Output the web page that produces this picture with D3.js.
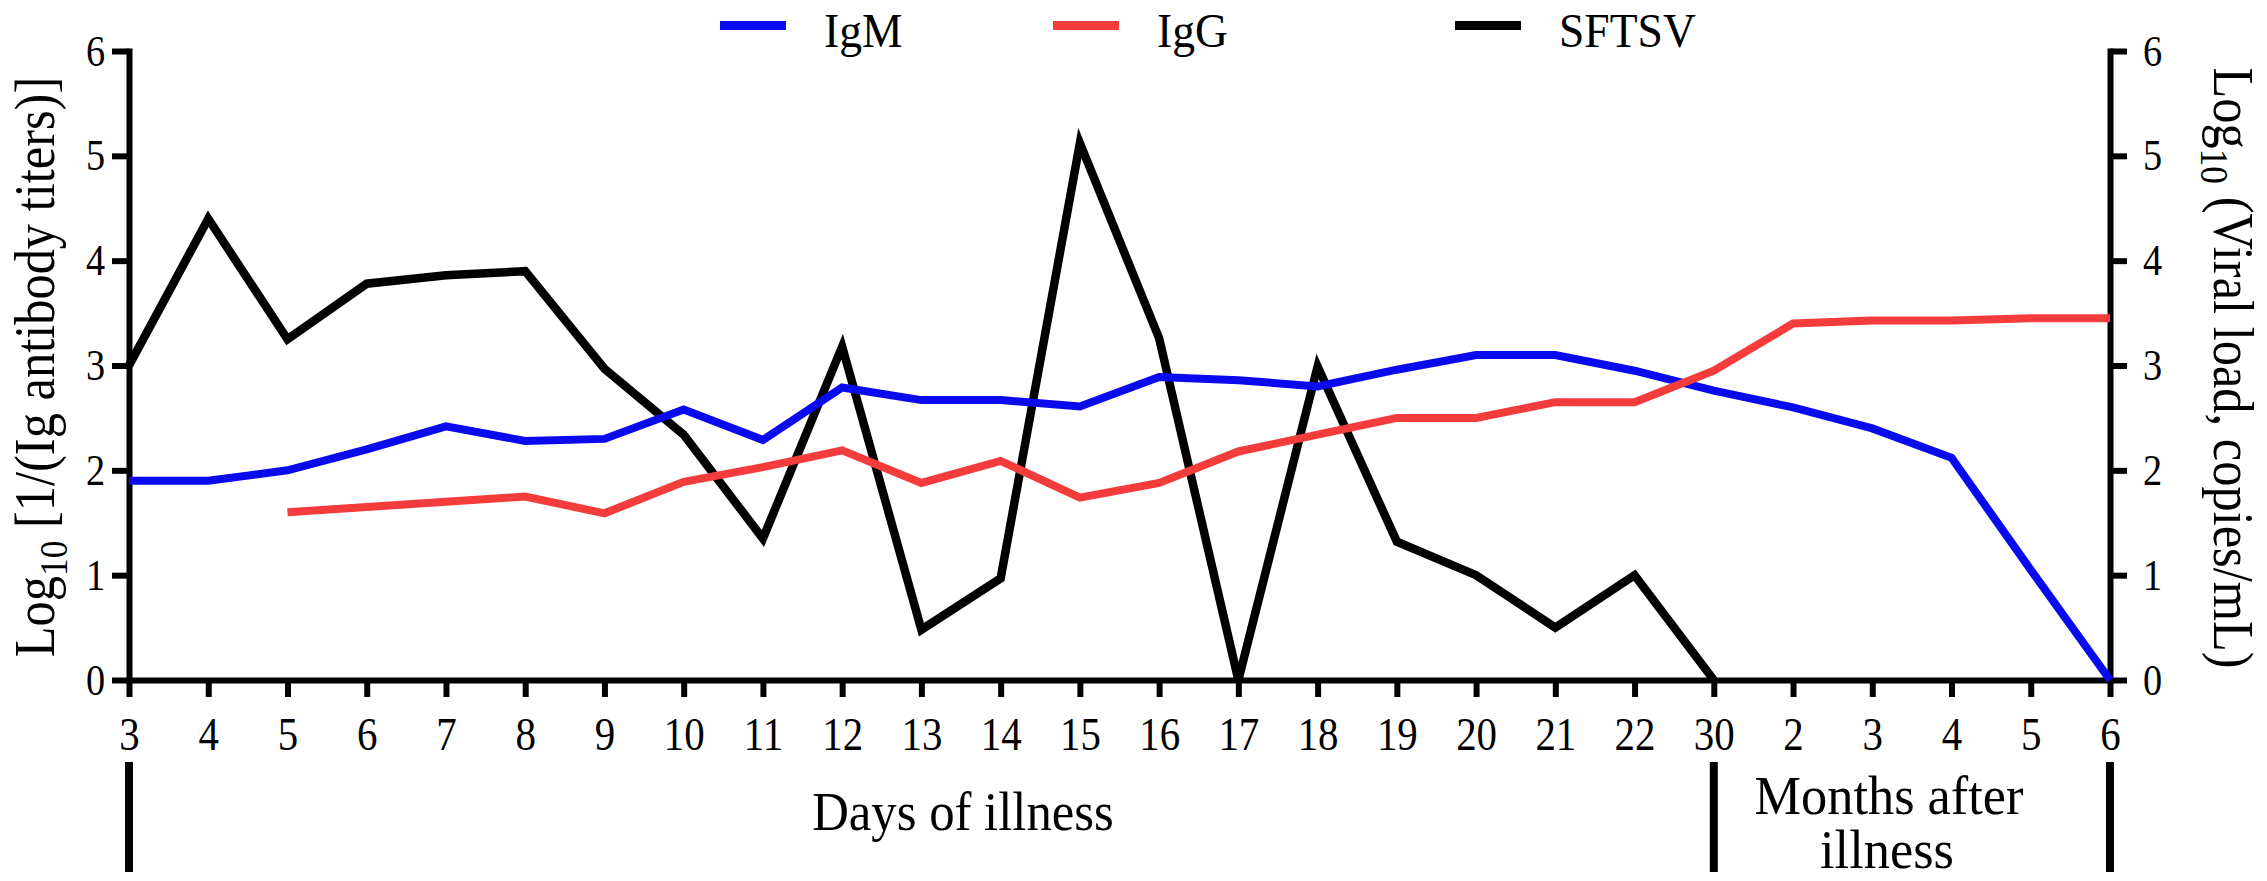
<!DOCTYPE html>
<html>
<head>
<meta charset="utf-8">
<script src="https://cdn.jsdelivr.net/npm/d3@7"></script>
<style>
  body { margin: 0; background: #fff; }
  svg { display: block; }
</style>
</head>
<body>
<script>
// x categories: days 3..22, day 30, then months 2..6
var xLabels = ["3","4","5","6","7","8","9","10","11","12","13","14","15","16","17","18","19","20","21","22","30","2","3","4","5","6"];

var igmValues   = [1.9,1.9,2.0,2.2,2.42,2.28,2.3,2.58,2.29,2.79,2.67,2.67,2.61,2.89,2.86,2.8,2.96,3.1,3.1,2.95,2.76,2.6,2.4,2.12,1.05,0];
var iggValues   = [null,null,1.6,1.65,1.7,1.75,1.59,1.89,2.03,2.19,1.88,2.09,1.74,1.88,2.18,2.34,2.5,2.5,2.65,2.65,2.95,3.4,3.43,3.43,3.45,3.45];
var sftsvValues = [3.0,4.4,3.25,3.78,3.86,3.9,2.97,2.34,1.35,3.18,0.48,0.97,5.12,3.26,0,2.99,1.32,1.0,0.5,1.0,0,null,null,null,null,null];

var yTicks = [0,1,2,3,4,5,6];

var seriesNames  = ["IgM","IgG","SFTSV"];
var seriesColors = ["#0a0aef","#f43c3c","#000000"];

var W = 2267, H = 881;
var FONT = "'Liberation Serif','Times New Roman',serif";
var SQ = 0.87;   // glyphs in the figure are a bit narrow

var svg = d3.select("body").append("svg")
    .attr("width", W)
    .attr("height", H)
    .style("font-family", FONT);

var x = d3.scalePoint().domain(d3.range(xLabels.length)).range([129, 2110]);
var y = d3.scaleLinear().domain([0, 6]).range([680, 51]);
var yR = d3.scaleLinear().domain([0, 6]).range([680, 51]);

function styleAxis(g){
  g.attr("font-family", FONT);
  g.select(".domain").attr("stroke-width", 6).attr("stroke-linecap", "square");
  g.selectAll(".tick line").attr("stroke-width", 6);
  g.selectAll(".tick text").attr("fill", "#000");
}

// bottom axis
var gx = svg.append("g")
    .attr("transform", "translate(0," + y(0) + ")")
    .call(d3.axisBottom(x).tickSize(17).tickSizeOuter(0).tickPadding(20)
      .tickFormat(function(i){ return xLabels[i]; }));
styleAxis(gx);
gx.selectAll(".tick text")
    .attr("font-size", 47)
    .attr("transform", "scale(" + SQ + ",1)");

// left axis
var gyl = svg.append("g")
    .attr("transform", "translate(" + x(0) + ",0)")
    .call(d3.axisLeft(y).tickValues(yTicks).tickFormat(d3.format("d"))
      .tickSize(17).tickSizeOuter(0).tickPadding(7));
styleAxis(gyl);
gyl.selectAll(".tick text")
    .attr("font-size", 44)
    .attr("x", -24 / SQ)
    .attr("transform", "scale(" + SQ + ",1)");

// right axis
var gyr = svg.append("g")
    .attr("transform", "translate(" + x(xLabels.length - 1) + ",0)")
    .call(d3.axisRight(yR).tickValues(yTicks).tickFormat(d3.format("d"))
      .tickSize(17).tickSizeOuter(0).tickPadding(16));
styleAxis(gyr);
gyr.selectAll(".tick text")
    .attr("font-size", 44)
    .attr("x", 33 / SQ)
    .attr("transform", "scale(" + SQ + ",1)");

// lines (black first, antibodies drawn over it)
function drawLine(values, scale, color, width){
  var line = d3.line()
      .defined(function(d){ return d !== null; })
      .x(function(d, i){ return x(i); })
      .y(function(d){ return scale(d); });
  svg.append("path")
      .datum(values)
      .attr("fill", "none")
      .attr("stroke", color)
      .attr("stroke-width", width)
      .attr("stroke-linejoin", "miter")
      .attr("d", line);
}
drawLine(sftsvValues, yR, seriesColors[2], 8.5);
drawLine(igmValues, y, seriesColors[0], 8);
drawLine(iggValues, y, seriesColors[1], 8);

// axis titles
function title(tx, ty, rot, rest, size){
  var t = svg.append("text")
      .attr("transform", "translate(" + tx + "," + ty + ") rotate(" + rot + ") scale(" + SQ + ",1)")
      .attr("text-anchor", "middle")
      .attr("font-size", size)
      .attr("fill", "#000");
  t.append("tspan").text("Log");
  t.append("tspan").attr("font-size", size * 0.7).attr("dy", size * 0.22).text("10");
  t.append("tspan").attr("dy", -size * 0.22).text(rest);
}
title(54, 367, -90, " [1/(Ig antibody titers)]", 58);
title(2214, 368, 90, " (Viral load, copies/mL)", 58);

// legend
var legendX = [720, 1053, 1455];
var legend = svg.append("g");
seriesNames.forEach(function(name, i){
  legend.append("rect")
      .attr("x", legendX[i]).attr("y", 21)
      .attr("width", 66).attr("height", 9)
      .attr("fill", seriesColors[i]);
  legend.append("text")
      .attr("transform", "translate(" + (legendX[i] + 104) + ",47) scale(0.95,1)")
      .attr("font-size", 48)
      .attr("fill", "#000")
      .text(name);
});

// period brackets under the x axis
[0, 20, xLabels.length - 1].forEach(function(i){
  svg.append("line")
      .attr("x1", x(i)).attr("x2", x(i))
      .attr("y1", 762).attr("y2", 872)
      .attr("stroke", "#000")
      .attr("stroke-width", 8);
});

function label(tx, ty, txt, sq){
  svg.append("text")
      .attr("transform", "translate(" + tx + "," + ty + ") scale(" + sq + ",1)")
      .attr("text-anchor", "middle")
      .attr("font-size", 54)
      .attr("fill", "#000")
      .text(txt);
}
label(963, 830, "Days of illness", 0.94);
label(1889, 814, "Months after", 0.97);
label(1887, 868, "illness", 0.97);
</script>
</body>
</html>
